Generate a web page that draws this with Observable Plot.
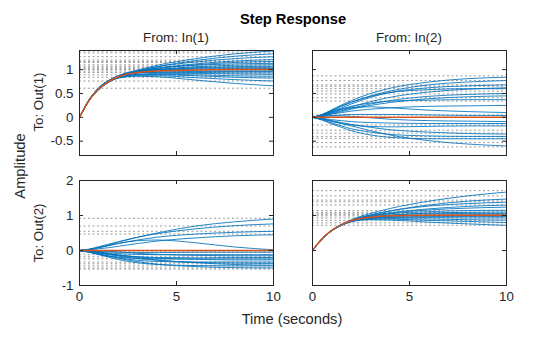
<!DOCTYPE html>
<html>
<head>
<meta charset="utf-8">
<script src="https://cdn.jsdelivr.net/npm/d3@7"></script>
<script src="https://cdn.jsdelivr.net/npm/@observablehq/plot@0.6"></script>
<style>
  html, body { margin: 0; padding: 0; background: #fff; }
  #root { position: relative; width: 560px; height: 337px; font-family: "Liberation Sans", Arial, sans-serif; color: #262626; overflow: hidden; }
  .lbl { position: absolute; white-space: nowrap; transform: translate(-50%, -50%); line-height: 1; }
  .rot { transform: translate(-50%, -50%) rotate(-90deg); }
  .pl { position: absolute; }
</style>
</head>
<body>
<div id="root">
  <div class="lbl" style="left:293px;top:19px;font-size:14.7px;font-weight:bold;color:#000;">Step Response</div>
  <div class="lbl" style="left:176px;top:38px;font-size:13.3px;">From: In(1)</div>
  <div class="lbl" style="left:409px;top:38px;font-size:13.3px;">From: In(2)</div>
  <div class="lbl rot" style="left:39px;top:102px;font-size:13.3px;">To: Out(1)</div>
  <div class="lbl rot" style="left:39px;top:233px;font-size:13.3px;">To: Out(2)</div>
  <div class="lbl rot" style="left:20px;top:166px;font-size:14.7px;">Amplitude</div>
  <div class="lbl" style="left:292px;top:319px;font-size:14.7px;">Time (seconds)</div>
</div>
<script>
// Sample times (seconds)
const T = [0, 0.5, 1, 1.5, 2, 3, 4, 6, 8, 10];
const xTicks = [0, 5, 10];
const topYTicks = [-0.5, 0, 0.5, 1];
const bottomYTicks = [-1, 0, 1, 2];
const topYDomain = [-0.8, 1.4];
const bottomYDomain = [-1, 2];

// From In(1) to Out(1)
const g11 = [
  [0,0.37,0.62,0.77,0.87,0.99,1.09,1.23,1.33,1.39],
  [0,0.36,0.61,0.76,0.86,0.97,1.06,1.19,1.28,1.33],
  [0,0.37,0.62,0.77,0.87,0.98,1.06,1.16,1.23,1.27],
  [0,0.36,0.60,0.75,0.85,0.96,1.03,1.12,1.18,1.21],
  [0,0.35,0.59,0.74,0.84,0.95,1.02,1.10,1.15,1.17],
  [0,0.37,0.62,0.77,0.86,0.97,1.03,1.09,1.12,1.13],
  [0,0.36,0.60,0.75,0.85,0.95,1.00,1.06,1.09,1.10],
  [0,0.35,0.59,0.74,0.84,0.94,0.99,1.04,1.06,1.07],
  [0,0.36,0.61,0.76,0.86,0.96,1.00,1.03,1.04,1.04],
  [0,0.37,0.62,0.77,0.87,0.96,0.99,1.01,1.02,1.02],
  [0,0.35,0.58,0.73,0.83,0.93,0.97,0.99,0.99,0.99],
  [0,0.36,0.60,0.75,0.85,0.93,0.95,0.96,0.96,0.96],
  [0,0.37,0.62,0.77,0.86,0.93,0.94,0.94,0.93,0.93],
  [0,0.35,0.59,0.74,0.83,0.90,0.92,0.92,0.91,0.90],
  [0,0.36,0.60,0.75,0.84,0.89,0.90,0.89,0.87,0.86],
  [0,0.37,0.61,0.76,0.85,0.89,0.89,0.87,0.84,0.82],
  [0,0.36,0.60,0.74,0.83,0.87,0.87,0.83,0.79,0.76],
  [0,0.36,0.60,0.74,0.82,0.86,0.85,0.78,0.71,0.66]
];
const g11Nominal = [0,0.36,0.60,0.75,0.85,0.94,0.97,0.99,1.00,1.00];
const g11Steady = [1.39,1.35,1.27,1.20,1.17,1.15,1.10,1.07,1.05,1.02,1.00,0.97,0.94,0.89,0.84,0.76,0.61];

// From In(2) to Out(1)
const g12 = [
  [0,0.06,0.16,0.26,0.35,0.50,0.61,0.74,0.81,0.84],
  [0,0.05,0.14,0.23,0.31,0.45,0.55,0.68,0.74,0.77],
  [0,0.05,0.12,0.20,0.28,0.42,0.52,0.62,0.66,0.68],
  [0,0.04,0.10,0.16,0.22,0.33,0.42,0.53,0.59,0.62],
  [0,0.06,0.15,0.24,0.32,0.44,0.52,0.58,0.60,0.60],
  [0,0.04,0.09,0.14,0.19,0.28,0.35,0.44,0.48,0.50],
  [0,0.03,0.08,0.12,0.17,0.25,0.31,0.39,0.43,0.45],
  [0,0.05,0.12,0.18,0.23,0.30,0.34,0.36,0.37,0.37],
  [0,0.03,0.07,0.10,0.13,0.17,0.20,0.23,0.24,0.25],
  [0,0.05,0.12,0.17,0.20,0.22,0.20,0.15,0.12,0.10],
  [0,0.02,0.04,0.05,0.06,0.06,0.06,0.05,0.04,0.04],
  [0,0.02,0.03,0.03,0.02,-0.01,-0.04,-0.07,-0.08,-0.09],
  [0,-0.02,-0.05,-0.07,-0.09,-0.11,-0.12,-0.13,-0.13,-0.13],
  [0,-0.04,-0.09,-0.13,-0.16,-0.19,-0.20,-0.19,-0.18,-0.18],
  [0,-0.03,-0.07,-0.11,-0.15,-0.21,-0.26,-0.31,-0.34,-0.35],
  [0,-0.05,-0.12,-0.18,-0.24,-0.31,-0.36,-0.39,-0.40,-0.40],
  [0,-0.06,-0.14,-0.21,-0.28,-0.37,-0.42,-0.45,-0.45,-0.45],
  [0,-0.03,-0.08,-0.13,-0.18,-0.28,-0.37,-0.49,-0.56,-0.60]
];
const g12Nominal = [0,0,0,0,0,0,0,0,0,0];
const g12Steady = [0.87,0.77,0.68,0.65,0.60,0.55,0.49,0.41,0.34,0.05,-0.16,-0.27,-0.33,-0.40,-0.44,-0.53,-0.62];

// From In(1) to Out(2)
const g21 = [
  [0,0.03,0.09,0.16,0.24,0.38,0.50,0.70,0.82,0.90],
  [0,0.04,0.11,0.18,0.25,0.38,0.48,0.62,0.71,0.76],
  [0,0.03,0.08,0.14,0.20,0.30,0.38,0.47,0.52,0.55],
  [0,0.02,0.05,0.08,0.12,0.20,0.27,0.36,0.42,0.45],
  [0,0.03,0.08,0.14,0.20,0.28,0.30,0.22,0.10,0.02],
  [0,-0.01,-0.03,-0.04,-0.05,-0.06,-0.06,-0.05,-0.05,-0.05],
  [0,-0.02,-0.05,-0.07,-0.09,-0.11,-0.12,-0.12,-0.12,-0.12],
  [0,0.01,0.00,-0.02,-0.04,-0.08,-0.11,-0.14,-0.15,-0.15],
  [0,-0.03,-0.07,-0.11,-0.14,-0.18,-0.20,-0.21,-0.20,-0.20],
  [0,-0.05,-0.11,-0.16,-0.19,-0.23,-0.24,-0.24,-0.24,-0.24],
  [0,-0.02,-0.06,-0.10,-0.13,-0.18,-0.22,-0.25,-0.27,-0.27],
  [0,-0.04,-0.10,-0.16,-0.21,-0.28,-0.31,-0.33,-0.33,-0.33],
  [0,-0.03,-0.07,-0.12,-0.16,-0.23,-0.28,-0.34,-0.36,-0.37],
  [0,-0.02,-0.05,-0.09,-0.13,-0.20,-0.27,-0.35,-0.40,-0.42],
  [0,-0.05,-0.12,-0.19,-0.26,-0.35,-0.40,-0.43,-0.44,-0.44],
  [0,-0.04,-0.10,-0.16,-0.22,-0.32,-0.39,-0.46,-0.49,-0.50]
];
const g21Nominal = [0,0,0,0,0,0,0,0,0,0];
const g21Steady = [0.92,0.70,0.55,0.47,-0.04,-0.12,-0.18,-0.24,-0.33,-0.38,-0.44,-0.50,-0.53];

// From In(2) to Out(2)
const g22 = [
  [0,0.34,0.58,0.75,0.88,1.06,1.20,1.41,1.56,1.67],
  [0,0.33,0.57,0.73,0.85,1.01,1.13,1.30,1.41,1.47],
  [0,0.34,0.58,0.74,0.86,1.02,1.13,1.27,1.34,1.38],
  [0,0.34,0.58,0.74,0.86,1.00,1.08,1.19,1.26,1.30],
  [0,0.33,0.56,0.72,0.84,0.97,1.06,1.16,1.21,1.24],
  [0,0.34,0.58,0.74,0.85,0.98,1.05,1.11,1.14,1.15],
  [0,0.33,0.57,0.73,0.84,0.95,1.01,1.07,1.09,1.10],
  [0,0.34,0.58,0.74,0.85,0.96,1.01,1.05,1.06,1.06],
  [0,0.33,0.57,0.73,0.84,0.94,0.98,1.01,1.02,1.02],
  [0,0.34,0.58,0.74,0.85,0.95,0.98,1.00,1.00,1.00],
  [0,0.33,0.57,0.72,0.83,0.92,0.95,0.97,0.97,0.97],
  [0,0.34,0.58,0.74,0.84,0.92,0.94,0.94,0.93,0.93],
  [0,0.33,0.57,0.73,0.83,0.90,0.91,0.90,0.88,0.87],
  [0,0.34,0.58,0.74,0.84,0.90,0.90,0.86,0.83,0.80],
  [0,0.33,0.57,0.72,0.82,0.88,0.87,0.81,0.76,0.72]
];
const g22Nominal = [0,0.34,0.58,0.74,0.85,0.95,0.99,1.01,1.01,1.01];
const g22Steady = [1.71,1.56,1.44,1.39,1.30,1.14,1.09,1.05,1.02,0.99,0.93,0.86,0.79,0.72];

const PW = 194, PH = 105;
const ML = 40, MR = 8, MT = 8, MB = 24;
const axisColor = "#262626";

function panel(curves, nominal, steady, yDomain, yTicks, showX, showY) {
  const rows = curves.flatMap((c, i) => c.map((v, j) => ({id: i, t: T[j], v})));
  const nom = nominal.map((v, j) => ({t: T[j], v}));
  return Plot.plot({
    width: ML + PW + MR,
    height: MT + PH + MB,
    marginLeft: ML, marginRight: MR, marginTop: MT, marginBottom: MB,
    style: {background: "transparent", overflow: "visible", fontSize: "13.3px", fontFamily: "'Liberation Sans', Arial, sans-serif", color: axisColor},
    x: {domain: [0, 10], ticks: xTicks, tickSize: 0, tickPadding: 6, tickFormat: d => String(d), label: null, axis: showX ? "bottom" : null},
    y: {domain: yDomain, ticks: yTicks, tickSize: 0, tickPadding: 6, tickFormat: d => String(d), label: null, axis: showY ? "left" : null},
    marks: [
      Plot.ruleY(steady, {y: d => d, stroke: "#9a9a9a", strokeWidth: 1, strokeDasharray: "2,2.5"}),
      Plot.line(rows, {x: "t", y: "v", z: "id", stroke: "#0072BD", strokeWidth: 1, strokeOpacity: 0.85, curve: "monotone-x", clip: true}),
      Plot.line(nom, {x: "t", y: "v", stroke: "#D95319", strokeWidth: 1.5, curve: "monotone-x", clip: true}),
      Plot.tickX(xTicks, {x: d => d, insetTop: PH - 4, stroke: axisColor}),
      Plot.tickX(xTicks, {x: d => d, insetBottom: PH - 4, stroke: axisColor}),
      Plot.tickY(yTicks, {y: d => d, insetRight: PW - 4, stroke: axisColor}),
      Plot.tickY(yTicks, {y: d => d, insetLeft: PW - 4, stroke: axisColor}),
      Plot.frame({stroke: axisColor, strokeWidth: 1})
    ]
  });
}

const root = document.getElementById("root");
function place(el, left, top) {
  el.classList.add("pl");
  el.style.left = left + "px";
  el.style.top = top + "px";
  root.appendChild(el);
}
place(panel(g11, g11Nominal, g11Steady, topYDomain, topYTicks, false, true), 79 - ML, 50 - MT);
place(panel(g12, g12Nominal, g12Steady, topYDomain, topYTicks, false, false), 312 - ML, 50 - MT);
place(panel(g21, g21Nominal, g21Steady, bottomYDomain, bottomYTicks, true, true), 79 - ML, 180 - MT);
place(panel(g22, g22Nominal, g22Steady, bottomYDomain, bottomYTicks, true, false), 312 - ML, 180 - MT);
</script>
</body>
</html>
